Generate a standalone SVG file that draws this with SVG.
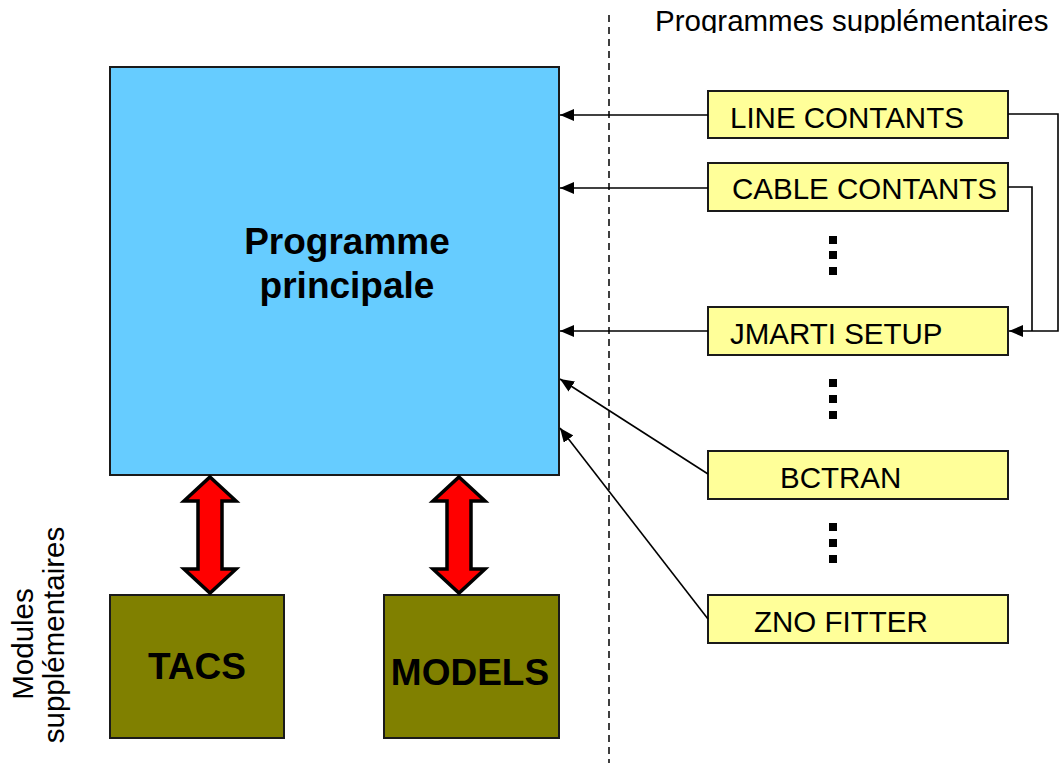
<svg xmlns="http://www.w3.org/2000/svg" width="1061" height="763" viewBox="0 0 1061 763">
<style>
.lbl{font-family:"Liberation Sans",Arial,sans-serif;font-size:29.5px;fill:#000}
.bold{font-family:"Liberation Sans",Arial,sans-serif;font-weight:bold;font-size:37px;fill:#000}
.main{fill:#66CCFF;stroke:#1a1a1a;stroke-width:2}
.prog{fill:#FFFF99;stroke:#1a1a1a;stroke-width:2}
.mod{fill:#808000;stroke:#1a1a1a;stroke-width:2}
.conn{fill:none;stroke:#000;stroke-width:1.6}
.dbl{fill:#FF0000;stroke:#000;stroke-width:3.5;stroke-linejoin:miter;stroke-miterlimit:10}
.dot{fill:#000}
</style>
<defs>
<marker id="ah" viewBox="0 0 14 12" refX="14" refY="6" markerWidth="14" markerHeight="12" markerUnits="userSpaceOnUse" orient="auto">
<path d="M0,0 L14,6 L0,12 z" fill="#000"/>
</marker>
<clipPath id="topclip"><rect x="0" y="0" width="1061" height="33"/></clipPath>
</defs>
<rect width="1061" height="763" fill="#fff"/>

<line x1="609" y1="15" x2="609" y2="763" stroke="#000" stroke-width="1.5" stroke-dasharray="7,5"/>

<text class="lbl" x="655" y="31" clip-path="url(#topclip)">Programmes supplémentaires</text>
<text class="lbl" transform="translate(33,644) rotate(-90)" text-anchor="middle">Modules</text>
<text class="lbl" transform="translate(64,635) rotate(-90)" text-anchor="middle">supplémentaires</text>

<g id="programme-principal">
<rect class="main" x="110" y="67" width="449" height="408"/>
<text class="bold" x="347" y="254" text-anchor="middle">Programme</text>
<text class="bold" x="347" y="298" text-anchor="middle">principale</text>
</g>

<g id="line-contants">
<rect class="prog" x="708" y="91" width="300" height="47"/>
<text class="lbl" x="730" y="128">LINE CONTANTS</text>
</g>
<g id="cable-contants">
<rect class="prog" x="708" y="163" width="300" height="48"/>
<text class="lbl" x="732" y="199">CABLE CONTANTS</text>
</g>
<g id="jmarti-setup">
<rect class="prog" x="708" y="307" width="300" height="48"/>
<text class="lbl" x="730" y="344">JMARTI SETUP</text>
</g>
<g id="bctran">
<rect class="prog" x="708" y="451" width="300" height="48"/>
<text class="lbl" x="780" y="488">BCTRAN</text>
</g>
<g id="zno-fitter">
<rect class="prog" x="708" y="595" width="300" height="48"/>
<text class="lbl" x="754" y="632">ZNO FITTER</text>
</g>

<g id="tacs">
<rect class="mod" x="110" y="595" width="174" height="143"/>
<text class="bold" x="197" y="679" text-anchor="middle">TACS</text>
</g>
<g id="models">
<rect class="mod" x="384" y="595" width="175" height="143"/>
<text class="bold" x="470" y="685" text-anchor="middle">MODELS</text>
</g>

<g id="ellipses">
<rect class="dot" x="829" y="236" width="8" height="8"/>
<rect class="dot" x="829" y="251" width="8" height="8"/>
<rect class="dot" x="829" y="267" width="8" height="8"/>
<rect class="dot" x="829" y="379" width="8" height="8"/>
<rect class="dot" x="829" y="395" width="8" height="8"/>
<rect class="dot" x="829" y="411" width="8" height="8"/>
<rect class="dot" x="829" y="523" width="8" height="8"/>
<rect class="dot" x="829" y="539" width="8" height="8"/>
<rect class="dot" x="829" y="555" width="8" height="8"/>
</g>

<g id="connectors">
<line class="conn" x1="708" y1="115" x2="560" y2="115" marker-end="url(#ah)"/>
<line class="conn" x1="708" y1="188" x2="560" y2="188" marker-end="url(#ah)"/>
<line class="conn" x1="708" y1="331" x2="560" y2="331" marker-end="url(#ah)"/>
<line class="conn" x1="708" y1="474" x2="560" y2="379" marker-end="url(#ah)"/>
<line class="conn" x1="708" y1="619" x2="560" y2="428" marker-end="url(#ah)"/>
<polyline class="conn" points="1008,114 1058,114 1058,331 1009,331" marker-end="url(#ah)"/>
<polyline class="conn" points="1008,187 1032,187 1032,331"/>
<path class="dbl" d="M210,477 L236,501 L222,501 L222,569 L236,569 L210,593 L184,569 L198,569 L198,501 L184,501 Z"/>
<path class="dbl" d="M459,477 L485,501 L471,501 L471,569 L485,569 L459,593 L433,569 L447,569 L447,501 L433,501 Z"/>
</g>
</svg>
